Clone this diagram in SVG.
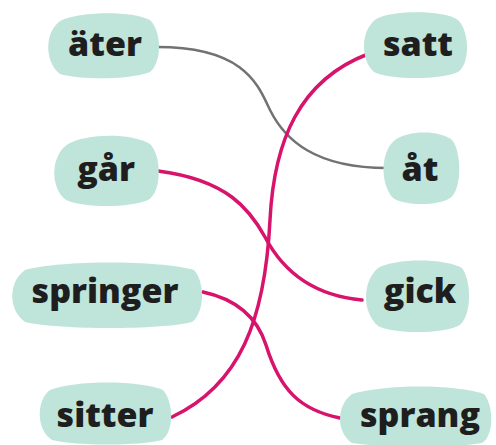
<svg xmlns="http://www.w3.org/2000/svg" width="496" height="445" viewBox="0 0 496 445">
<style>
.b{fill:#bfe4da}
.t{font-family:"Open Sans","Noto Sans",sans-serif;font-weight:800;font-size:34px;fill:#1e1e1e;text-anchor:middle}
.g{fill:none;stroke:#727272;stroke-width:2.5;stroke-linecap:round}
.p{fill:none;stroke:#d8136c;stroke-width:3.5;stroke-linecap:round}
</style>
<rect width="496" height="445" fill="#fff"/>
<g id="connectors">
<path class="g" d="M157,47 C245,47 258,85 270,110 C285,140 315,168 387,168"/>
<path class="p" d="M368,54 C300,80 274,140 270,220 C265,320 240,385 172,417"/>
<path class="p" d="M158,171 C228,180 250,210 265,237 C285,275 318,296 362,300"/>
<path class="p" d="M203,292 C240,300 258,320 266,345 C280,390 300,410 340,418"/>
</g>
<g id="n-ater"><path class="b" d="M62,20 C80,12 130,10 150,20 C162,32 162,62 150,72 C130,80 80,80 60,74 C44,62 44,30 62,20Z"/><text class="t" x="105" y="56">äter</text></g>
<g id="n-satt"><path class="b" d="M378,18 C395,10 445,10 458,20 C470,32 470,64 458,72 C440,80 390,80 374,72 C360,60 360,28 378,18Z"/><text class="t" x="418" y="56">satt</text></g>
<g id="n-gar"><path class="b" d="M68,144 C85,134 130,132 150,144 C162,156 162,192 148,200 C128,208 85,208 66,200 C50,188 50,156 68,144Z"/><text class="t" x="106" y="181">går</text></g>
<g id="n-at"><path class="b" d="M395,140 C408,130 440,130 452,140 C462,152 462,190 450,198 C438,206 405,206 393,198 C380,184 380,152 395,140Z"/><text class="t" x="420" y="181">åt</text></g>
<g id="n-springer"><path class="b" d="M25,270 C60,260 160,260 194,270 C205,282 205,312 192,322 C160,330 60,330 25,322 C8,310 8,282 25,270Z"/><text class="t" x="105" y="303">springer</text></g>
<g id="n-gick"><path class="b" d="M378,268 C395,258 445,258 462,268 C472,282 472,318 458,326 C440,334 395,334 378,326 C362,312 362,282 378,268Z"/><text class="t" x="420" y="303">gick</text></g>
<g id="n-sitter"><path class="b" d="M50,390 C75,380 140,380 163,390 C174,402 174,432 162,440 C140,446 75,446 52,440 C36,430 36,400 50,390Z"/><text class="t" x="105" y="427">sitter</text></g>
<g id="n-sprang"><path class="b" d="M352,394 C385,384 455,384 484,394 C494,406 494,436 482,443 C455,448 385,448 352,443 C336,432 336,406 352,394Z"/><text class="t" x="420" y="427">sprang</text></g>
</svg>
